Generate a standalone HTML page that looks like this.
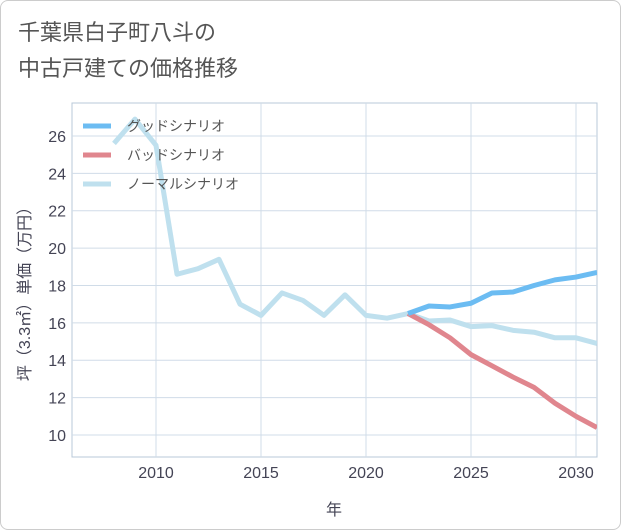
<!DOCTYPE html>
<html><head><meta charset="utf-8"><style>
body{margin:0;background:#fff;font-family:"Liberation Sans","Noto Sans CJK JP",sans-serif;}
#wrap{position:relative;width:619px;height:528px;border:1px solid #ccc;border-radius:8px;overflow:hidden;}
</style></head><body>
<div id="wrap">
<svg id="chart" width="621" height="530" style="position:absolute;left:-1px;top:-1px">
<text x="18" y="40" font-size="22" fill="#555">千葉県白子町八斗の</text>
<text x="18" y="76" font-size="22" fill="#555">中古戸建ての価格推移</text>
<g id="grid"></g><g id="series"></g><g id="legend"></g>
<text x="334" y="515" font-size="16" fill="#445" text-anchor="middle">年</text>
<text transform="translate(30,290) rotate(-90)" font-size="16" fill="#445" text-anchor="middle">坪（3.3㎡）単価（万円）</text>
</svg></div>
<script>
const years=[2008,2009,2010,2011,2012,2013,2014,2015,2016,2017,2018,2019,2020,2021,2022,2023,2024,2025,2026,2027,2028,2029,2030,2031];
const normal=[25.6,26.9,25.5,18.6,18.9,19.4,17.0,16.4,17.6,17.2,16.4,17.5,16.4,16.25,16.5,16.1,16.15,15.8,15.85,15.6,15.5,15.2,15.2,14.9];
const goodYears=[2022,2023,2024,2025,2026,2027,2028,2029,2030,2031];
const good=[16.5,16.9,16.85,17.05,17.6,17.65,18.0,18.3,18.45,18.7];
const bad=[16.5,15.9,15.2,14.3,13.7,13.1,12.55,11.7,11.0,10.4];
const xTicks=[2010,2015,2020,2025,2030];
const yTicks=[10,12,14,16,18,20,22,24,26];
const x=v=>156+(v-2010)*21, y=v=>435-(v-10)*18.69;
const L=72,R=597,T=103,B=457,NS='http://www.w3.org/2000/svg';
function mk(p,t,a){const e=document.createElementNS(NS,t);for(const k in a)e.setAttribute(k,a[k]);p.appendChild(e);return e;}
const g=document.getElementById('grid');
mk(g,'rect',{x:L,y:T,width:R-L,height:B-T,fill:'none',stroke:'#b8c8d8'});
xTicks.forEach(t=>{const l=mk(g,'line',{x1:x(t),x2:x(t),y1:T,y2:B,stroke:'#d0dce8'});


const s=mk(g,'text',{x:x(t),y:B+21,'font-size':16,fill:'#445','text-anchor':'middle'});s.textContent=t;

});
yTicks.forEach(t=>{const l=mk(g,'line',{x1:L,x2:R,y1:y(t),y2:y(t),stroke:'#d0dce8'});


const s=mk(g,'text',{x:L-6,y:y(t)+6,'font-size':16,fill:'#445','text-anchor':'end'});s.textContent=t;

});
const sg=document.getElementById('series');
mk(sg,'clipPath',{id:'c'}).appendChild(document.createElementNS(NS,'rect'));
const cr=sg.querySelector('clipPath rect');cr.setAttribute('x',L);cr.setAttribute('y',T);cr.setAttribute('width',R-L);cr.setAttribute('height',B-T);
function line(xs,vs,col,name){const p=mk(sg,'polyline',{points:xs.map((v,i)=>x(v)+','+y(vs[i])).join(' '),fill:'none',stroke:col,'stroke-width':5,'stroke-linejoin':'round','clip-path':'url(#c)'});

}
line(years,normal,'#bfe0ee','normal-scenario-line');
line(goodYears,bad,'#e0868e','bad-scenario-line');
line(goodYears,good,'#6cbcf2','good-scenario-line');
const lg=document.getElementById('legend');
[['グッドシナリオ','#6cbcf2','legend-good'],['バッドシナリオ','#e0868e','legend-bad'],['ノーマルシナリオ','#bfe0ee','legend-normal']].forEach((d,i)=>{
const yy=126+i*29;const e=mk(lg,'g',{});


mk(e,'line',{x1:83,x2:111,y1:yy,y2:yy,stroke:d[1],'stroke-width':5});
const t=mk(e,'text',{x:127,y:yy+5,'font-size':14,fill:'#555'});t.textContent=d[0];});
</script></body></html>
